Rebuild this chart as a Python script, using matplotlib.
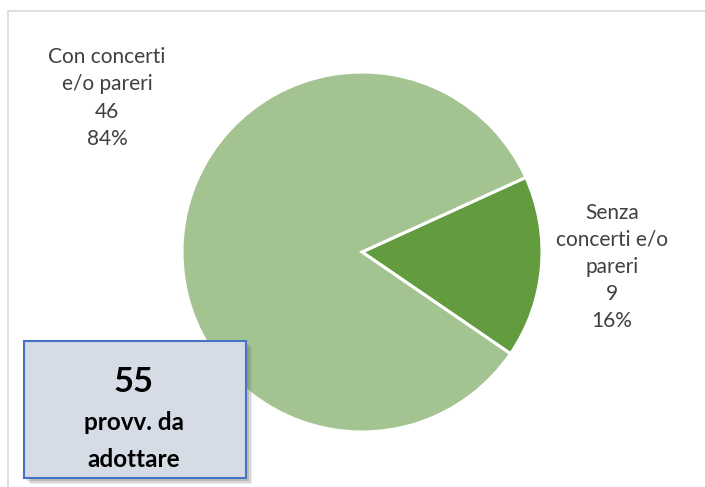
import matplotlib.pyplot as plt
from matplotlib.patches import Rectangle

# data
labels = ['Senza\nconcerti e/o\npareri', 'Con concerti\ne/o pareri']
values = [9, 46]
colors = ['#629C3E', '#A3C490']
total_label = ['provv. da', 'adottare']

plt.rcParams['font.family'] = ['Lato', 'DejaVu Sans']

W, H = 705, 487
fig = plt.figure(figsize=(W / 100, H / 100), dpi=100)
ax = fig.add_axes([0, 0, 1, 1])
ax.set_xlim(0, W)
ax.set_ylim(0, H)
ax.set_aspect('equal')
ax.axis('off')

# chart frame (only top and left edge visible)
ax.plot([7.5, 7.5, W], [0, H - 10.5, H - 10.5], color='#D9D9D9', lw=1.2)

ax.pie(values, colors=colors, startangle=24.5, counterclock=False,
       center=(362, H - 252), radius=180,
       wedgeprops=dict(edgecolor='white', linewidth=2.2))
ax.set_xlim(0, W)
ax.set_ylim(0, H)

total = sum(values)
pct = [round(v / total * 100) for v in values]
pos = [(612, H - 267), (107, H - 98)]
for lab, v, p, (x, y) in zip(labels, values, pct, pos):
    ax.text(x, y, f'{lab}\n{v}\n{p}%', ha='center', va='center',
            fontsize=15, color='#404040', linespacing=1.45)

# summary box with soft shadow
for i, a in enumerate([0.12, 0.18, 0.25]):
    d = 6 - 1.5 * i
    ax.add_patch(Rectangle((24 + d, H - 478 - d), 222, 137, facecolor='#707070',
                           edgecolor='none', alpha=a, zorder=3))
ax.add_patch(Rectangle((24, H - 478), 222, 137, facecolor='#D6DCE5',
                       edgecolor='#4472C4', lw=1.5, zorder=4))
ax.text(134, H - 392, str(total), ha='center', va='baseline', fontsize=25,
        fontweight='bold', color='black', zorder=5)
for txt, yb in zip(total_label, [430, 467]):
    ax.text(134, H - yb, txt, ha='center', va='baseline', fontsize=17.5,
            fontweight='bold', color='black', zorder=5)

fig.savefig('out.png', dpi=100)
